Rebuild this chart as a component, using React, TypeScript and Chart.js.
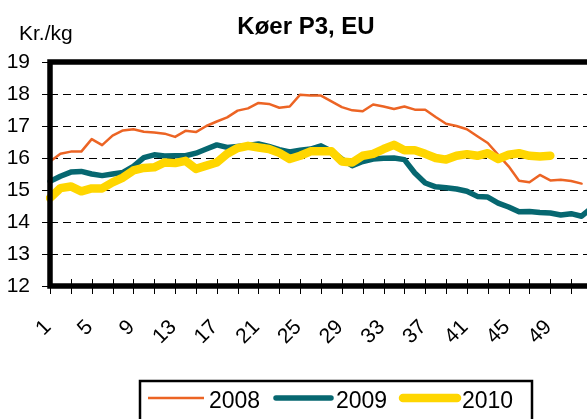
import React, { useEffect, useRef } from "react";
import { Chart, registerables } from "chart.js";

Chart.register(...registerables);

const FONT = "'Liberation Sans', Arial, Helvetica, sans-serif";

const chartTitle = "Køer P3, EU";
const unitLabel = "Kr./kg";

const weeks = [
  "1", "2", "3", "4", "5", "6", "7", "8", "9", "10",
  "11", "12", "13", "14", "15", "16", "17", "18", "19", "20",
  "21", "22", "23", "24", "25", "26", "27", "28", "29", "30",
  "31", "32", "33", "34", "35", "36", "37", "38", "39", "40",
  "41", "42", "43", "44", "45", "46", "47", "48", "49", "50",
  "51", "52", "53",
];

const shownWeekLabels = ["1", "5", "9", "13", "17", "21", "25", "29", "33", "37", "41", "45", "49"];

const yMin = 12;
const yMax = 19;

const seriesNames = ["2008", "2009", "2010"];

const values2008 = [
  15.89, 16.13, 16.2, 16.2, 16.59, 16.4, 16.7, 16.86, 16.9, 16.82,
  16.8, 16.76, 16.66, 16.85, 16.81, 17.0, 17.14, 17.27, 17.48, 17.55,
  17.72, 17.69, 17.57, 17.61, 17.98, 17.95, 17.95, 17.77, 17.59, 17.49,
  17.46, 17.67, 17.61, 17.53, 17.61, 17.51, 17.51, 17.28, 17.07, 17.0,
  16.9, 16.68, 16.47, 16.1, 15.74, 15.29, 15.24, 15.47, 15.3, 15.32,
  15.28, 15.2,
];

const values2009 = [
  15.27, 15.43, 15.56, 15.58, 15.5, 15.45, 15.5, 15.55, 15.74, 16.01,
  16.1, 16.06, 16.07, 16.07, 16.15, 16.28, 16.41, 16.33, 16.36, 16.39,
  16.44, 16.36, 16.26, 16.19, 16.24, 16.28, 16.38, 16.21, 15.97, 15.76,
  15.89, 15.97, 15.99, 16.0, 15.95, 15.53, 15.22, 15.1, 15.07, 15.03,
  14.96, 14.8, 14.78, 14.59, 14.47, 14.32, 14.33, 14.3, 14.28, 14.22,
  14.26, 14.18, 14.45,
];

const values2010 = [
  14.75, 15.06, 15.11, 14.96, 15.05, 15.05, 15.24, 15.39, 15.61, 15.69,
  15.71, 15.86, 15.84, 15.91, 15.66, 15.76, 15.86, 16.13, 16.31, 16.38,
  16.33, 16.28, 16.16, 15.97, 16.07, 16.21, 16.21, 16.21, 15.89, 15.86,
  16.07, 16.13, 16.28, 16.41, 16.24, 16.24, 16.13, 16.0, 15.95, 16.07,
  16.12, 16.07, 16.15, 15.97, 16.1, 16.15, 16.07, 16.05, 16.07,
];

const seriesColors = ["#EC6424", "#066770", "#FFD600"];
const seriesWidths = [2.5, 5.5, 8.5];

const decorPlugin = {
  id: "decor",
  afterDatasetsDraw(chart: any) {
    const { ctx, chartArea: a, scales } = chart;
    ctx.save();
    // plot frame
    ctx.strokeStyle = "#000";
    ctx.lineWidth = 5.5;
    ctx.strokeRect(a.left, a.top, a.right - a.left, a.bottom - a.top);
    // y tick marks
    ctx.lineWidth = 1;
    for (let v = yMin; v <= yMax; v++) {
      const y = Math.round(scales.y.getPixelForValue(v)) + 0.5;
      ctx.beginPath();
      ctx.moveTo(a.left - 8, y);
      ctx.lineTo(a.left, y);
      ctx.stroke();
    }
    // x tick marks (every second week, crossing the axis)
    weeks.forEach((_w, i) => {
      if (i % 2 !== 0) return;
      const x = Math.round(scales.x.getPixelForValue(i)) + 0.5;
      ctx.beginPath();
      ctx.moveTo(x, a.bottom - 7);
      ctx.lineTo(x, a.bottom + 8);
      ctx.stroke();
    });
    ctx.restore();
  },
  afterDraw(chart: any) {
    const { ctx } = chart;
    ctx.save();
    ctx.fillStyle = "#000";
    // title
    ctx.font = `bold 24px ${FONT}`;
    ctx.textAlign = "center";
    ctx.textBaseline = "alphabetic";
    ctx.fillText(chartTitle, 306, 34);
    // unit
    ctx.font = `21px ${FONT}`;
    ctx.textAlign = "left";
    ctx.fillText(unitLabel, 19, 40);
    // legend
    ctx.strokeStyle = "#000";
    ctx.lineWidth = 2.5;
    ctx.strokeRect(140, 381, 392, 60);
    const samples = [
      { x0: 148, x1: 204, tx: 209, cap: "butt" },
      { x0: 276, x1: 331, tx: 336, cap: "round" },
      { x0: 403, x1: 457, tx: 462, cap: "round" },
    ];
    const ly = 398;
    chart.data.datasets.forEach((ds: any, k: number) => {
      const s = samples[k];
      ctx.beginPath();
      ctx.lineCap = s.cap;
      ctx.strokeStyle = ds.borderColor;
      ctx.lineWidth = ds.borderWidth;
      ctx.moveTo(s.x0, ly);
      ctx.lineTo(s.x1, ly);
      ctx.stroke();
      ctx.font = `23px ${FONT}`;
      ctx.fillStyle = "#000";
      ctx.textAlign = "left";
      ctx.fillText(ds.label, s.tx, 408);
    });
    ctx.restore();
  },
};

export default function App() {
  const ref = useRef<HTMLCanvasElement | null>(null);

  useEffect(() => {
    if (!ref.current) return;
    const allValues = [values2008, values2009, values2010];
    const chart = new Chart(ref.current, {
      type: "line",
      data: {
        labels: weeks,
        datasets: allValues.map((vals, k) => ({
          label: seriesNames[k],
          data: vals,
          borderColor: seriesColors[k],
          backgroundColor: seriesColors[k],
          borderWidth: seriesWidths[k],
          pointRadius: 0,
          pointHoverRadius: 0,
          tension: 0,
          fill: false,
          borderJoinStyle: "round" as const,
          borderCapStyle: "round" as const,
          order: 3 - k,
        })),
      },
      options: {
        responsive: false,
        animation: false,
        devicePixelRatio: 1,
        layout: { padding: { left: 0, top: 62, right: 8, bottom: 0 } },
        plugins: {
          legend: { display: false },
          tooltip: { enabled: false },
          title: { display: false },
        },
        scales: {
          x: {
            type: "category",
            offset: false,
            grid: { display: false, drawTicks: false },
            border: { display: false },
            ticks: {
              autoSkip: false,
              maxRotation: 45,
              minRotation: 45,
              padding: 29,
              labelOffset: -2,
              color: "#000",
              font: { family: FONT, size: 21 },
              callback: (_v: any, idx: number) =>
                shownWeekLabels.includes(weeks[idx]) ? weeks[idx] : "",
            },
            afterFit: (s: any) => {
              s.height = 133;
              s.paddingLeft = 0;
              s.paddingRight = 0;
            },
          },
          y: {
            type: "linear",
            min: yMin,
            max: yMax,
            grid: { color: "#000", lineWidth: 1, drawTicks: false },
            border: { display: false, dash: [8, 5] },
            ticks: {
              stepSize: 1,
              padding: 20,
              color: "#000",
              font: { family: FONT, size: 21 },
            },
            afterFit: (s: any) => {
              s.width = 50;
              s.paddingTop = 0;
              s.paddingBottom = 0;
            },
          },
        },
      },
      plugins: [decorPlugin],
    });
    return () => chart.destroy();
  }, []);

  return (
    <div
      style={{
        position: "absolute",
        left: 0,
        top: 0,
        width: 587,
        height: 419,
        overflow: "hidden",
        background: "#fff",
      }}
    >
      <canvas ref={ref} width={600} height={419} style={{ display: "block", width: 600, height: 419 }} />
    </div>
  );
}
